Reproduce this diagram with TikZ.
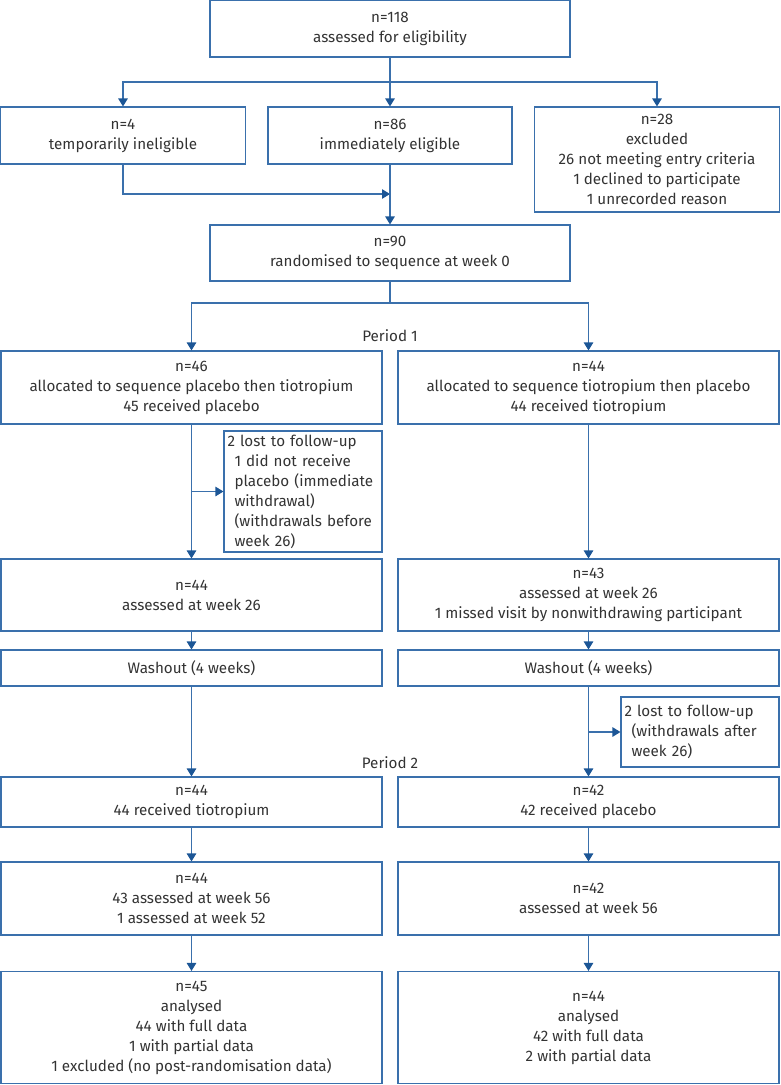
\documentclass[tikz,border=0pt]{standalone}
\usepackage{fontspec}
\setmainfont{Fira Sans}
\usetikzlibrary{arrows.meta, positioning}
\definecolor{flowline}{RGB}{58,112,172}
\definecolor{flowtip}{RGB}{28,86,150}
\definecolor{flowtext}{RGB}{51,51,51}
\newcommand{\sideind}{\hspace*{7pt}}

\begin{document}
\begin{tikzpicture}[x=1pt, y=-1pt,
        box/.style={rectangle, draw=flowline, line width=1.1pt, align=center, inner sep=0pt, text=flowtext, font=\fontsize{15.2}{20}\selectfont},
        sidebox/.style={box, align=left, text width=151pt, inner xsep=3.5pt},
        arr/.style={draw=flowline, line width=1.1pt, -{Triangle[length=8pt, width=9.5pt, color=flowtip]}},
        link/.style={draw=flowline, line width=1.1pt},
        period/.style={text=flowtext, font=\fontsize{15.2}{20}\selectfont}
    ]
        \useasboundingbox (0,0) rectangle (780,1085);

        \node[box, minimum width=360pt, minimum height=57pt] (assess) at (390,28.5) {n=118\\assessed for eligibility};
        \node[box, minimum width=245pt, minimum height=57pt] (inelig) at (123,135.5) {n=4\\temporarily ineligible};
        \node[box, minimum width=244pt, minimum height=57pt] (immed) at (390,135.5) {n=86\\immediately eligible};
        \node[box, minimum width=245pt, minimum height=105pt] (excl) at (657,159.5) {n=28\\excluded\\26 not meeting entry criteria\\1 declined to participate\\1 unrecorded reason};
        \node[box, minimum width=360pt, minimum height=56pt] (rand) at (390,253) {n=90\\randomised to sequence at week 0};

        \node[period] (per1) at (390,336) {Period 1};
        \node[box, minimum width=381pt, minimum height=73pt] (p1a) at (191.5,387.5) {n=46\\allocated to sequence placebo then tiotropium\\45 received placebo};
        \node[box, minimum width=381pt, minimum height=73pt] (p1b) at (588.5,387.5) {n=44\\allocated to sequence tiotropium then placebo\\44 received tiotropium};
        \node[sidebox, minimum height=121pt] (lost1) at (303,491.5) {2 lost to follow-up\\\sideind 1 did not receive\\\sideind placebo (immediate\\\sideind withdrawal)\\\sideind (withdrawals before\\\sideind week 26)};

        \node[box, minimum width=381pt, minimum height=72pt] (w26a) at (191.5,595) {n=44\\assessed at week 26};
        \node[box, minimum width=381pt, minimum height=72pt] (w26b) at (588.5,595) {n=43\\assessed at week 26\\1 missed visit by nonwithdrawing participant};
        \node[box, minimum width=381pt, minimum height=36pt] (washa) at (191.5,668) {Washout (4 weeks)};
        \node[box, minimum width=381pt, minimum height=36pt] (washb) at (588.5,668) {Washout (4 weeks)};
        \node[sidebox, minimum height=70pt] (lost2) at (700,732) {2 lost to follow-up\\\sideind (withdrawals after\\\sideind week 26)};

        \node[period] (per2) at (390,763) {Period 2};
        \node[box, minimum width=381pt, minimum height=50pt] (p2a) at (191.5,802) {n=44\\44 received tiotropium};
        \node[box, minimum width=381pt, minimum height=50pt] (p2b) at (588.5,802) {n=42\\42 received placebo};
        \node[box, minimum width=381pt, minimum height=73pt] (w56a) at (191.5,898.5) {n=44\\43 assessed at week 56\\1 assessed at week 52};
        \node[box, minimum width=381pt, minimum height=73pt] (w56b) at (588.5,898.5) {n=42\\assessed at week 56};
        \node[box, minimum width=381pt, minimum height=112pt] (anaa) at (191.5,1027.5) {n=45\\analysed\\44 with full data\\1 with partial data\\1 excluded (no post-randomisation data)};
        \node[box, minimum width=381pt, minimum height=112pt] (anab) at (588.5,1027.5) {n=44\\analysed\\42 with full data\\2 with partial data};

        \coordinate (split1) at (390,82);
        \coordinate (join1) at (390,194);
        \coordinate (split2) at (390,303);
        \coordinate (br1) at (p1a.south |- lost1.west);
        \coordinate (br2) at (washb.south |- lost2.west);

        \draw[link] (assess.south) -- (split1);
        \draw[arr] (split1) -| (inelig.north);
        \draw[arr] (split1) -- (immed.north);
        \draw[arr] (split1) -| (excl.north);
        \draw[arr] (inelig.south) |- (join1);
        \draw[arr] (immed.south) -- (rand.north);
        \draw[link] (rand.south) -- (split2);
        \draw[arr] (split2) -| (p1a.north);
        \draw[arr] (split2) -| (p1b.north);

        \draw[arr] (p1a) -- (w26a);
        \draw[arr] (br1) -- (lost1.west);
        \draw[arr] (p1b) -- (w26b);
        \draw[arr] (w26a) -- (washa);
        \draw[arr] (w26b) -- (washb);
        \draw[arr] (washa) -- (p2a);
        \draw[arr] (washb) -- (p2b);
        \draw[arr] (br2) -- (lost2.west);
        \draw[arr] (p2a) -- (w56a);
        \draw[arr] (p2b) -- (w56b);
        \draw[arr] (w56a) -- (anaa);
        \draw[arr] (w56b) -- (anab);
    \end{tikzpicture}
\end{document}
